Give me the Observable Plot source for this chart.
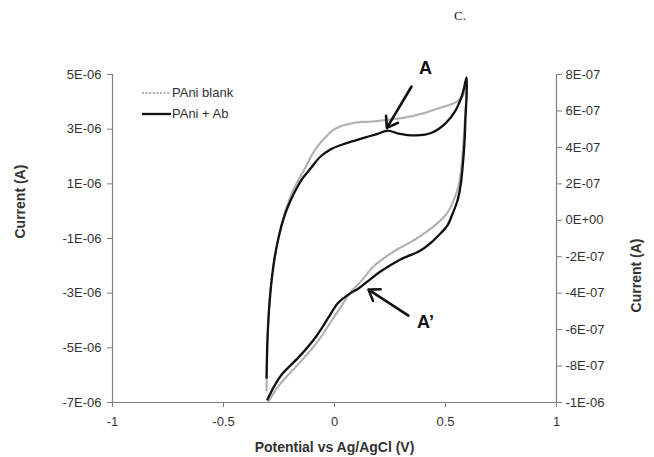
<!DOCTYPE html>
<html>
<head>
<meta charset="utf-8">
<script src="https://cdn.jsdelivr.net/npm/d3@7"></script>
<script src="https://cdn.jsdelivr.net/npm/@observablehq/plot@0.6"></script>
<style>
  body { margin: 0; background: #fff; }
  #wrap { position: relative; width: 654px; height: 457px; font-family: "Liberation Sans", Arial, sans-serif; }
  #title { position: absolute; left: 454px; top: 8px; font: 13px "Liberation Serif", "Times New Roman", serif; color: #222; }
  #chart { position: absolute; left: 0; top: 30px; }
  #legend { position: absolute; left: 142px; top: 82px; font-size: 13px; color: #333; line-height: 21px; }
  #legend div { display: flex; align-items: center; }
  #legend svg { margin-right: 1px; }
</style>
</head>
<body>
<div id="wrap">
  <div id="title">C.</div>
  <div id="chart"></div>
  <div id="legend"></div>
</div>
<script>
// Cyclic voltammograms: potential (V vs Ag/AgCl) and current (A), in scan order
const potentialBlank = [-0.306, -0.302, -0.293, -0.275, -0.252, -0.225, -0.198, -0.171, -0.131, -0.095,
  -0.054, 0.005, 0.095, 0.171, 0.243, 0.320, 0.396, 0.468, 0.545, 0.577, 0.595,
  0.590, 0.581, 0.572, 0.559, 0.536, 0.509, 0.446, 0.356, 0.266, 0.176, 0.126, 0.072, 0.027,
  -0.018, -0.072, -0.140, -0.207, -0.257, -0.297];
const currentBlank = [-6.56e-6, -4.73e-6, -3.38e-6, -1.99e-6, -0.96e-6, -0.09e-6, 0.54e-6, 1.01e-6, 1.60e-6, 2.15e-6,
  2.59e-6, 3.02e-6, 3.24e-6, 3.28e-6, 3.35e-6, 3.43e-6, 3.57e-6, 3.76e-6, 3.98e-6, 4.20e-6, 4.78e-6,
  3.68e-6, 2.59e-6, 1.67e-6, 0.94e-6, 0.39e-6, -0.05e-6, -0.56e-6, -1.07e-6, -1.48e-6, -2.02e-6, -2.50e-6, -2.98e-6, -3.52e-6,
  -4.07e-6, -4.73e-6, -5.39e-6, -5.98e-6, -6.45e-6, -6.96e-6];

const potentialAb = [-0.306, -0.302, -0.293, -0.275, -0.252, -0.225, -0.198, -0.171, -0.144, -0.108,
  -0.063, -0.018, 0.036, 0.095, 0.140, 0.198, 0.239, 0.288, 0.365, 0.441, 0.500, 0.545, 0.577, 0.595,
  0.595, 0.590, 0.586, 0.577, 0.568, 0.554, 0.532, 0.509, 0.477, 0.446, 0.387, 0.297, 0.207, 0.149,
  0.108, 0.063, 0.014, -0.027, -0.086, -0.162, -0.234, -0.270, -0.302];
const currentAb = [-6.09e-6, -4.73e-6, -3.38e-6, -1.99e-6, -0.96e-6, -0.16e-6, 0.39e-6, 0.83e-6, 1.20e-6, 1.56e-6,
  2.00e-6, 2.26e-6, 2.44e-6, 2.59e-6, 2.70e-6, 2.84e-6, 2.95e-6, 2.84e-6, 2.77e-6, 2.88e-6, 3.21e-6, 3.68e-6, 4.30e-6, 4.89e-6,
  4.23e-6, 3.43e-6, 2.59e-6, 1.60e-6, 0.94e-6, 0.39e-6, -0.09e-6, -0.52e-6, -0.82e-6, -1.07e-6, -1.44e-6, -1.77e-6, -2.21e-6, -2.57e-6,
  -2.83e-6, -3.05e-6, -3.38e-6, -3.89e-6, -4.62e-6, -5.35e-6, -5.94e-6, -6.38e-6, -6.89e-6];

const seriesNames = ["PAni blank", "PAni + Ab"];

// Axis ticks
const xTicks = [-1, -0.5, 0, 0.5, 1];
const leftTicks = [-7e-6, -5e-6, -3e-6, -1e-6, 1e-6, 3e-6, 5e-6];
const rightTicks = [-1e-6, -8e-7, -6e-7, -4e-7, -2e-7, 0, 2e-7, 4e-7, 6e-7, 8e-7];

// Peak annotations: label position, arrow tail and arrow tip
const annotations = [
  {label: "A",  lx: 0.41, ly: 5.22e-6,  x1: 0.347, y1: 4.56e-6,  x2: 0.236, y2: 3.05e-6},
  {label: "A\u2019", lx: 0.41, ly: -4.07e-6, x1: 0.333, y1: -3.82e-6, x2: 0.153, y2: -2.87e-6}
];

// "5E-06" style labels
function fmtE(v) {
  if (Math.abs(v) < 1e-15) v = 0;
  const [m, e] = v.toExponential(0).split("e");
  const sign = e[0] === "-" ? "-" : "+";
  return m + "E" + sign + String(Math.abs(+e)).padStart(2, "0");
}

// Right axis shares the plot's vertical extent with its own range
const leftDomain = [-7e-6, 5e-6];
const rightDomain = [-1e-6, 8e-7];
const toLeft = r => leftDomain[0] + (r - rightDomain[0]) * (leftDomain[1] - leftDomain[0]) / (rightDomain[1] - rightDomain[0]);
const rightLabel = new Map(rightTicks.map(r => [toLeft(r), fmtE(r)]));

const blank = potentialBlank.map((x, i) => ({x, y: currentBlank[i]}));
const ab = potentialAb.map((x, i) => ({x, y: currentAb[i]}));

const axisColor = "#7f7f7f";
const textColor = "#333";
const blankColor = "#b0b0b0";

const chart = Plot.plot({
  width: 654,
  height: 427,
  marginLeft: 112,
  marginRight: 98,
  marginTop: 44,
  marginBottom: 55,
  style: {fontFamily: "'Liberation Sans', Arial, sans-serif", fontSize: "13px", color: textColor, background: "#fff", overflow: "visible"},
  x: {domain: [-1, 1]},
  y: {domain: leftDomain},
  marks: [
    Plot.ruleX([-1, 1], {stroke: axisColor, strokeWidth: 1.2}),
    Plot.ruleY([leftDomain[0]], {stroke: axisColor, strokeWidth: 1.2}),
    Plot.axisX({ticks: xTicks, tickFormat: d => String(d), tickSize: 5, tickPadding: 9, stroke: axisColor, fill: textColor, label: null}),
    Plot.axisY({anchor: "left", ticks: leftTicks, tickFormat: fmtE, tickSize: 5, tickPadding: 6, stroke: axisColor, fill: textColor, label: null}),
    Plot.axisY({anchor: "right", ticks: rightTicks.map(toLeft), tickFormat: d => rightLabel.get(d), tickSize: 5, tickPadding: 4, stroke: axisColor, fill: textColor, label: null}),
    Plot.line(blank, {x: "x", y: "y", curve: "catmull-rom", stroke: blankColor, strokeWidth: 2.2, strokeDasharray: "2,1.6"}),
    Plot.line(ab, {x: "x", y: "y", curve: "catmull-rom", stroke: "#111", strokeWidth: 2.3}),
    Plot.arrow(annotations, {x1: "x1", y1: "y1", x2: "x2", y2: "y2", stroke: "#111", strokeWidth: 2.6, headLength: 7, headAngle: 70, bend: 0}),
    Plot.text(annotations, {x: "lx", y: "ly", text: "label", fontSize: 18, fontWeight: "bold", fill: "#111"}),
    Plot.text(["Potential vs Ag/AgCl (V)"], {frameAnchor: "bottom", dy: 49, fontSize: 14, fontWeight: "bold", fill: textColor}),
    Plot.text(["Current (A)"], {frameAnchor: "left", dx: -92, rotate: -90, fontSize: 14, fontWeight: "bold", fill: textColor}),
    Plot.text(["Current (A)"], {frameAnchor: "right", dx: 80, rotate: -90, fontSize: 14, fontWeight: "bold", fill: textColor})
  ]
});
document.getElementById("chart").appendChild(chart);

// Legend
const legendStyles = [
  {stroke: blankColor, width: 2.2, dash: "2,1.6"},
  {stroke: "#111", width: 2.3, dash: null}
];
const legend = document.getElementById("legend");
seriesNames.forEach((name, i) => {
  const s = legendStyles[i];
  const row = document.createElement("div");
  row.innerHTML = `<svg width="29" height="10"><line x1="0" y1="5" x2="29" y2="5" stroke="${s.stroke}" stroke-width="${s.width}" ${s.dash ? `stroke-dasharray="${s.dash}"` : ""}/></svg><span>${name}</span>`;
  legend.appendChild(row);
});
</script>
</body>
</html>
